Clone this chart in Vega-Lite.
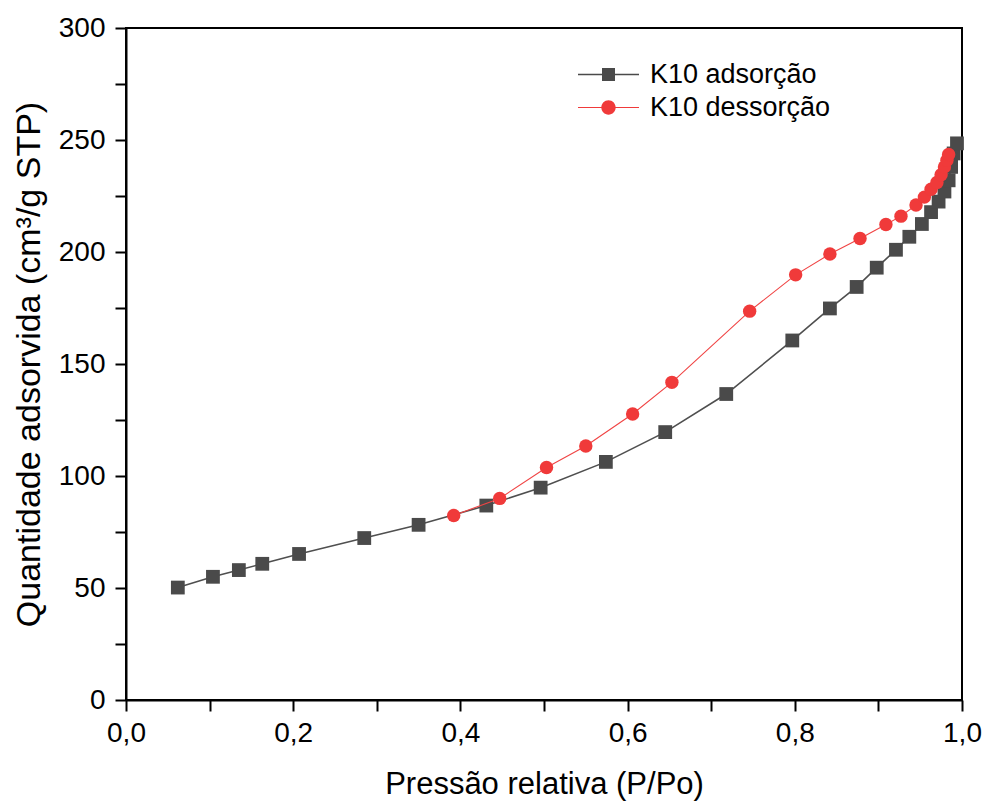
{
  "$schema": "https://vega.github.io/schema/vega-lite/v6.json",
  "width": 836,
  "height": 672,
  "autosize": {"type": "none"},
  "padding": {"left": 126, "top": 28, "right": 22, "bottom": 105},
  "background": "white",
  "config": {
    "view": {"stroke": "black", "strokeWidth": 2},
    "font": "Liberation Sans",
    "axis": {
      "domainColor": "black", "domainWidth": 2,
      "tickColor": "black", "tickWidth": 2,
      "labelFont": "Liberation Sans", "labelFontSize": 28, "labelColor": "black",
      "titleFont": "Liberation Sans", "titleFontWeight": "normal", "titleColor": "black",
      "grid": false
    },
    "legend": {
      "title": null, "orient": "none", "legendX": 452, "legendY": 30, "padding": 0,
      "symbolSize": 3721, "symbolOpacity": 1, "symbolStrokeWidth": 0,
      "clipHeight": 33, "rowPadding": 0, "labelOffset": 11,
      "labelFont": "Liberation Sans", "labelFontSize": 27, "labelColor": "black", "labelLimit": 400
    }
  },
  "datasets": {
    "ads": [
      {"p": 0.062, "q": 50.2}, {"p": 0.104, "q": 55.0}, {"p": 0.135, "q": 58.0}, {"p": 0.163, "q": 60.8},
      {"p": 0.207, "q": 65.2}, {"p": 0.285, "q": 72.3}, {"p": 0.350, "q": 78.2}, {"p": 0.431, "q": 86.8},
      {"p": 0.496, "q": 94.8}, {"p": 0.574, "q": 106.3}, {"p": 0.645, "q": 119.6}, {"p": 0.718, "q": 136.6},
      {"p": 0.797, "q": 160.5}, {"p": 0.842, "q": 174.8}, {"p": 0.874, "q": 184.4}, {"p": 0.898, "q": 193.0},
      {"p": 0.921, "q": 201.0}, {"p": 0.937, "q": 206.8}, {"p": 0.952, "q": 212.5}, {"p": 0.963, "q": 217.8},
      {"p": 0.972, "q": 222.5}, {"p": 0.979, "q": 227.0}, {"p": 0.984, "q": 232.0}, {"p": 0.987, "q": 238.0},
      {"p": 0.990, "q": 244.0}, {"p": 0.994, "q": 248.5}
    ],
    "des": [
      {"p": 0.392, "q": 82.4}, {"p": 0.447, "q": 90.0}, {"p": 0.503, "q": 103.8}, {"p": 0.550, "q": 113.4},
      {"p": 0.606, "q": 127.7}, {"p": 0.653, "q": 141.8}, {"p": 0.746, "q": 173.6}, {"p": 0.801, "q": 189.8},
      {"p": 0.842, "q": 199.1}, {"p": 0.878, "q": 206.0}, {"p": 0.909, "q": 212.3}, {"p": 0.927, "q": 216.0},
      {"p": 0.945, "q": 221.0}, {"p": 0.955, "q": 224.5}, {"p": 0.963, "q": 228.0}, {"p": 0.970, "q": 231.0},
      {"p": 0.975, "q": 234.5}, {"p": 0.979, "q": 238.0}, {"p": 0.982, "q": 241.0}, {"p": 0.984, "q": 243.5}
    ],
    "leg": [
      {"serie": "K10 adsorção", "p": 0.5, "q": 150},
      {"serie": "K10 dessorção", "p": 0.5, "q": 150}
    ]
  },
  "encoding": {
    "x": {
      "field": "p", "type": "quantitative",
      "scale": {"domain": [0, 1], "nice": false, "zero": false},
      "axis": {
        "title": "Pressão relativa (P/Po)", "titleFontSize": 31, "titlePadding": 22,
        "values": [0, 0.1, 0.2, 0.3, 0.4, 0.5, 0.6, 0.7, 0.8, 0.9, 1.0],
        "labelExpr": "round(datum.value*10) % 2 == 0 ? replace(format(datum.value, '.1f'), '.', ',') : ''",
        "tickSize": 11, "labelPadding": 8, "labelFlush": false, "labelOverlap": false,
        "encode": {"ticks": {"update": {"y2": {"signal": "round(datum.value*10) % 2 == 0 ? 11 : 6"}}}}
      }
    },
    "y": {
      "field": "q", "type": "quantitative",
      "scale": {"domain": [0, 300], "nice": false, "zero": true},
      "axis": {
        "title": "Quantidade adsorvida (cm³/g STP)", "titleFontSize": 34, "titlePadding": 12,
        "values": [0, 25, 50, 75, 100, 125, 150, 175, 200, 225, 250, 275, 300],
        "labelExpr": "datum.value % 50 == 0 ? datum.label : ''",
        "tickSize": 11, "labelPadding": 10, "labelFlush": false, "labelOverlap": false,
        "encode": {"ticks": {"update": {"x2": {"signal": "datum.value % 50 == 0 ? -11 : -6"}}}}
      }
    }
  },
  "layer": [
    {"data": {"name": "ads"}, "mark": {"type": "line", "color": "#4f4f4f", "strokeWidth": 1.6}},
    {"data": {"name": "ads"}, "mark": {"type": "point", "shape": "square", "filled": true, "size": 190, "color": "#4a4a4a", "opacity": 1}},
    {"data": {"name": "des"}, "mark": {"type": "line", "color": "#f04444", "strokeWidth": 1.1}},
    {"data": {"name": "des"}, "mark": {"type": "point", "shape": "circle", "filled": true, "size": 180, "color": "#f03a3a", "opacity": 1}},
    {
      "data": {"name": "leg"},
      "mark": {"type": "point", "filled": true, "opacity": 0},
      "encoding": {
        "color": {
          "field": "serie", "type": "nominal",
          "scale": {"domain": ["K10 adsorção", "K10 dessorção"], "range": ["#4a4a4a", "#f03a3a"]}
        },
        "shape": {
          "field": "serie", "type": "nominal",
          "scale": {
            "domain": ["K10 adsorção", "K10 dessorção"],
            "range": [
              "M-1,-0.025H-0.2V0.025H-1Z M0.2,-0.025H1V0.025H0.2Z M-0.213,-0.213H0.213V0.213H-0.213Z",
              "M-1,-0.018H-0.2V0.018H-1Z M0.2,-0.018H1V0.018H0.2Z M0.235,0A0.235,0.235 0 1,1 -0.235,0A0.235,0.235 0 1,1 0.235,0Z"
            ]
          }
        }
      }
    }
  ]
}
